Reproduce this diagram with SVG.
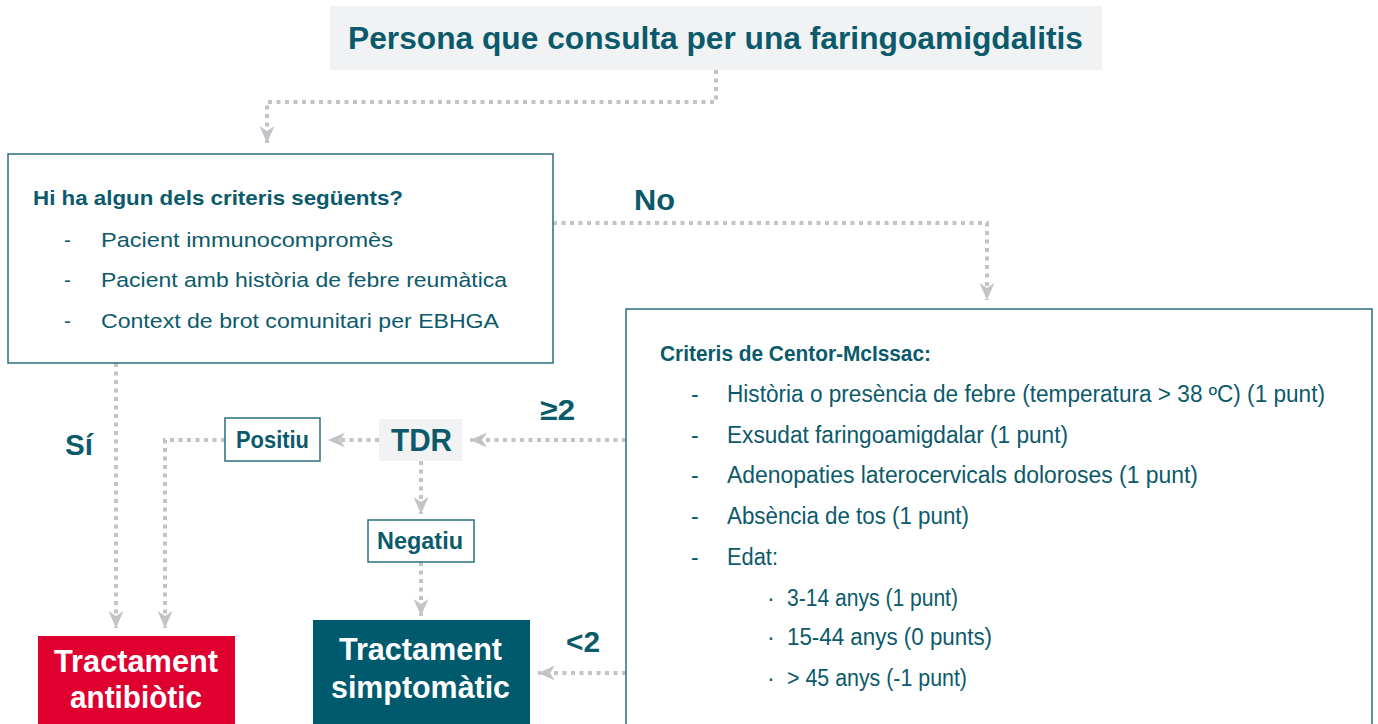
<svg xmlns="http://www.w3.org/2000/svg" width="1378" height="724" viewBox="0 0 1378 724">
<defs>
<style>
.t{font-family:"Liberation Sans",Arial,sans-serif;fill:#0b5a6b}
.big{font-size:31px;font-weight:bold}
.xl{font-size:32px;font-weight:bold}
.lab{font-size:30px;font-weight:bold}
.h1{font-size:21px;font-weight:bold}
.h2{font-size:22px;font-weight:bold}
.sm{font-size:23px;font-weight:bold}
.it1{font-size:20.5px}
.it2{font-size:23px}
.w{fill:#ffffff}
.conn{fill:none;stroke:#c3c4c8;stroke-width:4;stroke-dasharray:4 4.5}
.box{fill:#ffffff;stroke:#2a6f7f;stroke-width:1.5}
.grey{fill:#f1f2f4}
</style>
<marker id="ah" markerUnits="userSpaceOnUse" markerWidth="18" markerHeight="16" refX="17" refY="8" orient="auto" viewBox="0 0 18 16">
<path d="M0,0.5 L17,8 L0,15.5 L5,8 Z" fill="#c3c4c8"/>
</marker>
</defs>

<g id="connectors">
<path class="conn" d="M716,70 V102 H267 V143" marker-end="url(#ah)"/>
<path class="conn" d="M553,223 H987 V300" marker-end="url(#ah)"/>
<path class="conn" d="M116,363 V628" marker-end="url(#ah)"/>
<path class="conn" d="M225,440 H165 V628" marker-end="url(#ah)"/>
<path class="conn" d="M626,440 H470" marker-end="url(#ah)"/>
<path class="conn" d="M379,440 H328" marker-end="url(#ah)"/>
<path class="conn" d="M421,461 V514" marker-end="url(#ah)"/>
<path class="conn" d="M421,562 V616" marker-end="url(#ah)"/>
<path class="conn" d="M626,673 H538" marker-end="url(#ah)"/>
<text class="t lab" x="634" y="210" textLength="41" lengthAdjust="spacingAndGlyphs">No</text>
<text class="t lab" x="65" y="455" textLength="28" lengthAdjust="spacingAndGlyphs">Sí</text>
<text class="t lab" x="540" y="420" textLength="35" lengthAdjust="spacingAndGlyphs">≥2</text>
<text class="t lab" x="566" y="652" textLength="34" lengthAdjust="spacingAndGlyphs">&lt;2</text>
</g>

<g id="title">
<rect class="grey" x="330" y="6" width="772" height="64"/>
<text class="t big" x="348" y="49" textLength="735" lengthAdjust="spacingAndGlyphs">Persona que consulta per una faringoamigdalitis</text>
</g>

<g id="criteris">
<rect class="box" x="8" y="154" width="545" height="209"/>
<text class="t h1" x="33" y="205" textLength="370" lengthAdjust="spacingAndGlyphs">Hi ha algun dels criteris següents?</text>
<text class="t it1" x="64" y="247">-</text>
<text class="t it1" x="101" y="247" textLength="292" lengthAdjust="spacingAndGlyphs">Pacient immunocompromès</text>
<text class="t it1" x="64" y="287">-</text>
<text class="t it1" x="101" y="287" textLength="406" lengthAdjust="spacingAndGlyphs">Pacient amb història de febre reumàtica</text>
<text class="t it1" x="64" y="328">-</text>
<text class="t it1" x="101" y="328" textLength="398" lengthAdjust="spacingAndGlyphs">Context de brot comunitari per EBHGA</text>
</g>

<g id="centor">
<rect class="box" x="626" y="309" width="746" height="420"/>
<text class="t h2" x="660" y="361" textLength="271" lengthAdjust="spacingAndGlyphs">Criteris de Centor-McIssac:</text>
<text class="t it2" x="691" y="402">-</text>
<text class="t it2" x="727" y="402" textLength="598" lengthAdjust="spacingAndGlyphs">Història o presència de febre (temperatura &gt; 38 ºC) (1 punt)</text>
<text class="t it2" x="691" y="443">-</text>
<text class="t it2" x="727" y="443" textLength="341" lengthAdjust="spacingAndGlyphs">Exsudat faringoamigdalar (1 punt)</text>
<text class="t it2" x="691" y="483">-</text>
<text class="t it2" x="727" y="483" textLength="471" lengthAdjust="spacingAndGlyphs">Adenopaties laterocervicals doloroses (1 punt)</text>
<text class="t it2" x="691" y="524">-</text>
<text class="t it2" x="727" y="524" textLength="242" lengthAdjust="spacingAndGlyphs">Absència de tos (1 punt)</text>
<text class="t it2" x="691" y="565">-</text>
<text class="t it2" x="727" y="565" textLength="51" lengthAdjust="spacingAndGlyphs">Edat:</text>
<text class="t it2" x="767" y="606">·</text>
<text class="t it2" x="787" y="606" textLength="171" lengthAdjust="spacingAndGlyphs">3-14 anys (1 punt)</text>
<text class="t it2" x="767" y="645">·</text>
<text class="t it2" x="787" y="645" textLength="205" lengthAdjust="spacingAndGlyphs">15-44 anys (0 punts)</text>
<text class="t it2" x="767" y="686">·</text>
<text class="t it2" x="787" y="686" textLength="180" lengthAdjust="spacingAndGlyphs">&gt; 45 anys (-1 punt)</text>
</g>

<g id="tdr">
<rect class="grey" x="379" y="419" width="83" height="42"/>
<text class="t xl" x="391" y="451" textLength="61" lengthAdjust="spacingAndGlyphs">TDR</text>
</g>

<g id="positiu">
<rect class="box" x="225" y="418" width="95" height="43"/>
<text class="t sm" x="236" y="448" textLength="73" lengthAdjust="spacingAndGlyphs">Positiu</text>
</g>

<g id="negatiu">
<rect class="box" x="368" y="520" width="106" height="42"/>
<text class="t sm" x="377" y="549" textLength="86" lengthAdjust="spacingAndGlyphs">Negatiu</text>
</g>

<g id="antibiotic">
<rect x="38" y="636" width="197" height="92" fill="#e0002f"/>
<text class="t xl w" x="54" y="672" textLength="164" lengthAdjust="spacingAndGlyphs">Tractament</text>
<text class="t xl w" x="70" y="708" textLength="132" lengthAdjust="spacingAndGlyphs">antibiòtic</text>
</g>

<g id="simptomatic">
<rect x="313" y="620" width="217" height="108" fill="#005a6e"/>
<text class="t xl w" x="339" y="660" textLength="163" lengthAdjust="spacingAndGlyphs">Tractament</text>
<text class="t xl w" x="331" y="698" textLength="179" lengthAdjust="spacingAndGlyphs">simptomàtic</text>
</g>
</svg>
